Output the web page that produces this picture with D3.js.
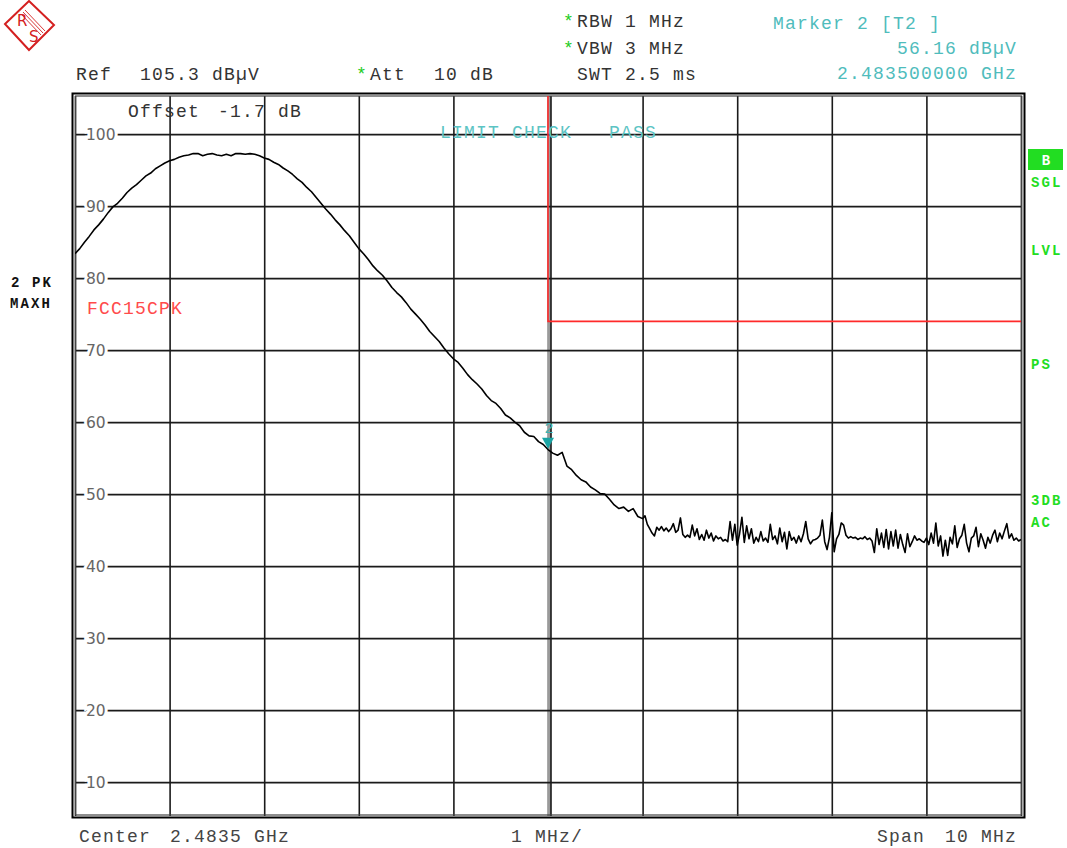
<!DOCTYPE html>
<html><head><meta charset="utf-8">
<script src="https://cdn.jsdelivr.net/npm/d3@7/dist/d3.min.js"></script>
<style>
html,body{margin:0;padding:0;background:#fff;}
svg{display:block;}
.mono{font-family:"Liberation Mono","DejaVu Sans Mono",monospace;font-size:18px;letter-spacing:1.2px;}
.side{font-family:"Liberation Mono","DejaVu Sans Mono",monospace;font-size:14px;font-weight:bold;letter-spacing:2.1px;}
</style>
</head><body>
<svg id="chart" width="1067" height="848"></svg>
<script>
// ---- data ----
const centerMHz = 2483.5;
const spanMHz = 10;
const refLevel = 105.3;
const yTicks = [10, 20, 30, 40, 50, 60, 70, 80, 90, 100];
const xGridMHz = [2478.5, 2479.5, 2480.5, 2481.5, 2482.5, 2483.5, 2484.5, 2485.5, 2486.5, 2487.5, 2488.5];
// trace part 1: 2478.5 .. 2484.45 MHz, 0.05 MHz steps (dBµV)
const traceA_start = 2478.5, traceA_step = 0.05;
const traceA = [
  83.4,84.1,85.0,85.8,86.7,87.4,88.2,89.1,89.9,90.4,91.1,91.9,92.5,93.0,93.6,94.2,94.6,95.2,95.6,96.0,
  96.3,96.5,96.8,97.0,97.1,97.3,97.3,97.0,97.2,97.3,97.1,97.0,97.2,97.0,97.3,97.3,97.2,97.3,97.2,97.0,
  96.7,96.5,96.1,95.8,95.3,94.9,94.4,93.8,93.3,92.6,92.0,91.2,90.4,89.6,88.9,88.1,87.4,86.6,85.9,85.0,
  84.1,83.4,82.6,81.7,81.0,80.4,79.6,78.7,78.0,77.4,76.6,75.7,75.0,74.3,73.5,72.6,71.9,71.2,70.3,69.5,
  68.8,68.3,67.5,66.6,65.9,65.3,64.6,63.7,63.0,62.6,61.9,61.0,60.6,60.0,59.5,58.6,58.1,58.0,57.3,56.9,
  56.2,55.7,55.4,55.8,53.9,53.4,52.6,52.0,51.7,51.0,50.6,50.1,50.0,49.3,48.5,48.0,48.2,47.6,48.0,46.9];
// trace part 2: 2484.5 .. 2488.5 MHz, 0.025 MHz steps (noise floor)
const traceB_start = 2484.5, traceB_step = 0.025;
const traceB = [46.6,47.0,45.8,45.2,44.6,44.2,45.4,45.0,45.5,44.9,45.3,44.8,45.2,45.9,44.7,45.0,46.7,44.4,44.0,44.3,
  44.0,45.7,44.2,45.2,43.7,44.4,43.6,45.0,43.9,44.6,43.5,44.2,43.8,44.0,43.5,43.7,43.4,46.2,43.6,45.8,
  42.9,44.5,46.8,43.3,45.6,43.8,45.2,43.2,44.0,43.4,44.8,43.5,43.9,43.3,45.8,43.7,44.2,43.1,45.3,43.4,
  44.7,42.4,44.8,43.6,44.0,43.2,44.2,43.4,44.5,46.2,43.8,43.1,43.6,43.7,43.9,44.3,46.4,43.4,42.3,44.0,
  47.4,42.0,43.8,44.4,46.0,45.7,44.3,43.9,44.1,43.9,44.0,43.7,43.9,43.8,44.1,43.7,43.9,43.5,41.9,45.2,
  43.0,44.6,42.6,45.1,42.4,44.8,42.8,45.0,42.5,44.4,43.0,41.9,44.5,42.7,43.4,44.2,43.6,43.8,43.5,43.3,
  43.9,43.0,44.6,43.2,46.0,42.8,44.2,41.4,43.6,41.5,44.0,43.1,45.6,42.6,43.8,44.3,45.8,43.2,42.0,43.9,
  44.2,45.4,42.7,44.5,43.6,42.5,44.0,43.2,44.3,45.0,43.4,44.6,43.8,44.9,45.9,43.9,44.5,43.6,43.9,43.5,43.7];
// limit line FCC15CPK
const limitFreq = [2483.5, 2483.5, 2488.5];
const limitLevel = [105.3, 74.0, 74.0];
// marker
const markerFreq = 2483.5, markerLevel = 56.16, markerLabel = "2";
const sideLabels = ["SGL", "LVL", "PS", "3DB", "AC"];
const sideLabelY = [187, 255, 369, 505, 527];

// ---- layout ----
const svg = d3.select("#chart");
svg.append("rect").attr("width",1067).attr("height",848).attr("fill","#fff");
const L = 75, R = 1021, T = 96, B = 816;
const x = d3.scaleLinear().domain([centerMHz - spanMHz/2, centerMHz + spanMHz/2]).range([L, R]);
const y = d3.scaleLinear().domain([refLevel - 100, refLevel]).range([B, T]);

svg.append("defs").append("clipPath").attr("id","clip")
  .append("rect").attr("x",L).attr("y",T).attr("width",R-L).attr("height",B-T);

// vertical grid
const gx = svg.append("g").attr("transform",`translate(0,${B})`)
  .call(d3.axisBottom(x).tickValues(xGridMHz).tickSize(-(B-T)).tickFormat(""));
gx.select(".domain").remove();
gx.selectAll("line").attr("stroke","#1a1a1a").attr("stroke-width",1.6);

// center double line
svg.append("rect").attr("x",x(centerMHz)-0.5).attr("y",T).attr("width",3.5).attr("height",B-T).attr("fill","#9a9a9a");
svg.append("line").attr("x1",x(centerMHz)+3).attr("x2",x(centerMHz)+3).attr("y1",T).attr("y2",B)
  .attr("stroke","#1a1a1a").attr("stroke-width",1.6);

// horizontal grid + labels
const gy = svg.append("g").attr("transform",`translate(${L},0)`)
  .call(d3.axisLeft(y).tickValues(yTicks).tickSize(-(R-L)).tickFormat(d => d));
gy.select(".domain").remove();
gy.selectAll("line").attr("stroke","#1a1a1a").attr("stroke-width",1.6);
gy.selectAll("text").attr("x",11).attr("dy","0.36em").attr("text-anchor","start")
  .attr("fill","#666").attr("font-family","'DejaVu Sans',sans-serif").attr("font-size","15.5px")
  .attr("stroke","#fff").attr("stroke-width",6).attr("paint-order","stroke");

// frame
svg.append("rect").attr("x",72.5).attr("y",93.5).attr("width",952).attr("height",724)
  .attr("fill","none").attr("stroke","#000").attr("stroke-width",2);
svg.append("rect").attr("x",75.5).attr("y",96).attr("width",946).attr("height",719)
  .attr("fill","none").attr("stroke","#444").attr("stroke-width",1.2);

// limit line
const limitPts = limitFreq.map((f,i)=>[f, limitLevel[i]]);
svg.append("path").attr("clip-path","url(#clip)")
  .attr("d", d3.line().x(d=>x(d[0])).y(d=>y(d[1]))(limitPts))
  .attr("fill","none").attr("stroke","#ff2a2a").attr("stroke-width",1.6);

// texts inside plot
svg.append("text").attr("class","mono").attr("x",128).attr("y",117).attr("fill","#333").text("Offset");
svg.append("text").attr("class","mono").attr("x",218).attr("y",117).attr("fill","#333").text("-1.7 dB");
svg.append("text").attr("class","mono").attr("x",440).attr("y",138).attr("fill","#5cc4c4").text("LIMIT CHECK");
svg.append("text").attr("class","mono").attr("x",609).attr("y",138).attr("fill","#5cc4c4").text("PASS");
svg.append("text").attr("class","mono").attr("x",87).attr("y",314).attr("fill","#ff4b4b").text("FCC15CPK");

// trace
const tracePts = traceA.map((v,i)=>[traceA_start + i*traceA_step, v])
  .concat(traceB.map((v,i)=>[traceB_start + i*traceB_step, v]));
svg.append("path").attr("clip-path","url(#clip)")
  .attr("d", d3.line().x(d=>x(d[0])).y(d=>y(d[1]))(tracePts))
  .attr("fill","none").attr("stroke","#000").attr("stroke-width",1.6).attr("stroke-linejoin","round");

// marker
const mx = x(markerFreq), my = y(markerLevel);
svg.append("path").attr("d",`M${mx-6},${my-12}L${mx+6},${my-12}L${mx},${my-1}Z`).attr("fill","#1aa3a3");
svg.append("text").attr("x",mx+1).attr("y",my-17).attr("text-anchor","middle")
  .attr("font-family","'Liberation Mono',monospace").attr("font-size","15px").attr("fill","#3cb4b4").text(markerLabel);

// header
const hdr = (t,xx,yy,col,anchor) => svg.append("text").attr("class","mono").attr("x",xx).attr("y",yy)
  .attr("fill",col).attr("text-anchor",anchor||"start").text(t);
hdr("Ref",76,80,"#333");
hdr("105.3 dBµV",140,80,"#333");
hdr("*",356,80,"#22cc22");
hdr("Att",370,80,"#333");
hdr("10 dB",434,80,"#333");
hdr("*",563,27,"#22cc22");
hdr("RBW 1 MHz",577,27,"#333");
hdr("*",563,54,"#22cc22");
hdr("VBW 3 MHz",577,54,"#333");
hdr("SWT 2.5 ms",577,80,"#333");
hdr("Marker 2 [T2 ]",773,29,"#4fbcbc");
hdr("56.16 dBµV",1017,54,"#4fbcbc","end");
hdr("2.483500000 GHz",1017,79,"#4fbcbc","end");

// footer
hdr("Center",79,842,"#444");
hdr("2.4835 GHz",170,842,"#444");
hdr("1 MHz/",511,842,"#444");
hdr("Span",877,842,"#444");
hdr("10 MHz",1017,842,"#444","end");

// left labels
svg.append("text").attr("class","side").attr("x",11).attr("y",287).attr("fill","#111").text("2 PK");
svg.append("text").attr("class","side").attr("x",10).attr("y",308).attr("fill","#111").text("MAXH");

// right labels
svg.append("rect").attr("x",1028).attr("y",149).attr("width",35).attr("height",21).attr("fill","#22dd22");
svg.append("text").attr("class","side").attr("x",1046).attr("y",165).attr("text-anchor","middle").attr("fill","#fff").style("letter-spacing","0px").text("B");
sideLabels.forEach((s,i)=>{
  svg.append("text").attr("class","side").attr("x",1031).attr("y",sideLabelY[i]).attr("fill","#22dd22").text(s);
});

// R&S logo
const logo = svg.append("g").attr("stroke","#d42020").attr("fill","none");
logo.append("path").attr("d","M5,24L29,1L54,25L29,50Z").attr("stroke-width",2);
[-2,0,2].forEach(o=>{
  logo.append("line").attr("x1",23+o).attr("y1",12-o).attr("x2",43+o).attr("y2",33-o).attr("stroke-width",0.9);
});
svg.append("text").attr("x",17).attr("y",26).attr("font-family","'DejaVu Sans',sans-serif").attr("font-size","15px").attr("fill","#d42020").text("R");
svg.append("text").attr("x",29).attr("y",42).attr("font-family","'DejaVu Sans',sans-serif").attr("font-size","15px").attr("fill","#d42020").text("S");
</script>
</body></html>
